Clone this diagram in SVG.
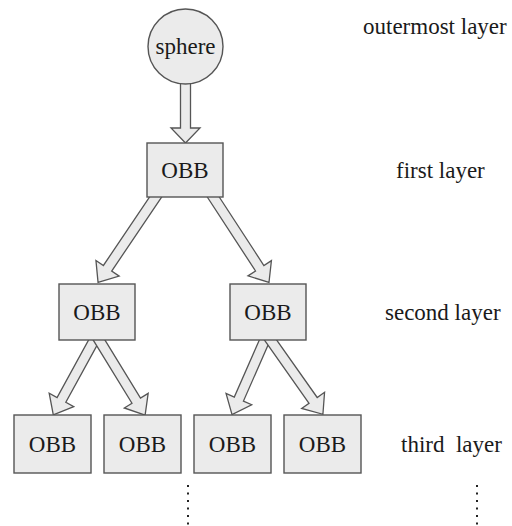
<svg xmlns="http://www.w3.org/2000/svg" width="512" height="526" viewBox="0 0 512 526">
  <style>
    .shape { fill: #ebebeb; stroke: #555555; stroke-width: 1.4; }
    .arrow { fill: #ebebeb; stroke: #555555; stroke-width: 1.3; stroke-linejoin: miter; }
    .label { font-family: "Liberation Serif", "Times New Roman", serif; font-size: 23px; fill: #1a1a1a; }
    .mid { text-anchor: middle; }
    .dot { fill: #222222; }
  </style>
  <rect width="512" height="526" fill="#ffffff"/>

  <!-- hollow block arrows -->
  <g id="connectors">
    <polygon class="arrow" points="180.5,80 180.5,128 171,128 185.5,143 200,128 190.5,128 190.5,80"/>
    <g transform="translate(159,192) rotate(124)">
      <polygon class="arrow" points="0,-5 92,-5 92,-14 109,0 92,14 92,5 0,5"/>
    </g>
    <g transform="translate(210,192) rotate(56.9)">
      <polygon class="arrow" points="0,-5 91,-5 91,-14 108,0 91,14 91,5 0,5"/>
    </g>
    <g transform="translate(97,335) rotate(118.7)">
      <polygon class="arrow" points="0,-5 74,-5 74,-14 91,0 74,14 74,5 0,5"/>
    </g>
    <g transform="translate(96,335) rotate(58.5)">
      <polygon class="arrow" points="0,-5 77,-5 77,-14 94,0 77,14 77,5 0,5"/>
    </g>
    <g transform="translate(267,335) rotate(113.7)">
      <polygon class="arrow" points="0,-5 70,-5 70,-14 87,0 70,14 70,5 0,5"/>
    </g>
    <g transform="translate(267,335) rotate(54.8)">
      <polygon class="arrow" points="0,-5 80,-5 80,-14 97,0 80,14 80,5 0,5"/>
    </g>
  </g>

  <g id="sphere">
    <circle class="shape" cx="185.5" cy="46.5" r="37.5"/>
    <text class="label mid" x="185.5" y="54">sphere</text>
  </g>

  <g id="obb-1">
    <rect class="shape" x="147" y="143" width="76" height="54"/>
    <text class="label mid" x="185" y="178">OBB</text>
  </g>

  <g id="obb-2a">
    <rect class="shape" x="59" y="284" width="76" height="56"/>
    <text class="label mid" x="97" y="320">OBB</text>
  </g>
  <g id="obb-2b">
    <rect class="shape" x="230" y="284" width="76" height="56"/>
    <text class="label mid" x="268" y="320">OBB</text>
  </g>

  <g id="obb-3a">
    <rect class="shape" x="14" y="415" width="77" height="58"/>
    <text class="label mid" x="52.5" y="452">OBB</text>
  </g>
  <g id="obb-3b">
    <rect class="shape" x="104" y="415" width="77" height="58"/>
    <text class="label mid" x="142.5" y="452">OBB</text>
  </g>
  <g id="obb-3c">
    <rect class="shape" x="194" y="415" width="77" height="58"/>
    <text class="label mid" x="232.5" y="452">OBB</text>
  </g>
  <g id="obb-3d">
    <rect class="shape" x="284" y="415" width="77" height="58"/>
    <text class="label mid" x="322.5" y="452">OBB</text>
  </g>

  <!-- layer captions -->
  <g id="layer-labels">
    <text class="label" x="363" y="34">outermost layer</text>
    <text class="label" x="396" y="178">first layer</text>
    <text class="label" x="385" y="320">second layer</text>
    <text class="label" x="401" y="452" xml:space="preserve" style="white-space:pre">third  layer</text>
  </g>

  <!-- continuation dots -->
  <g id="ellipsis">
    <rect class="dot" x="187" y="485" width="2" height="2"/>
    <rect class="dot" x="187" y="492.5" width="2" height="2"/>
    <rect class="dot" x="187" y="500" width="2" height="2"/>
    <rect class="dot" x="187" y="507.5" width="2" height="2"/>
    <rect class="dot" x="187" y="515" width="2" height="2"/>
    <rect class="dot" x="187" y="522.5" width="2" height="2"/>
    <rect class="dot" x="476" y="485" width="2" height="2"/>
    <rect class="dot" x="476" y="492.5" width="2" height="2"/>
    <rect class="dot" x="476" y="500" width="2" height="2"/>
    <rect class="dot" x="476" y="507.5" width="2" height="2"/>
    <rect class="dot" x="476" y="515" width="2" height="2"/>
    <rect class="dot" x="476" y="522.5" width="2" height="2"/>
  </g>
</svg>
